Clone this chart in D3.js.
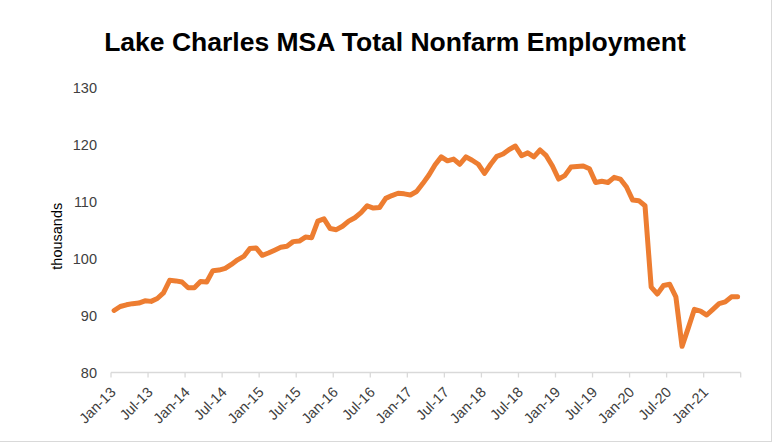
<!DOCTYPE html>
<html>
<head>
<meta charset="utf-8">
<script src="https://cdn.jsdelivr.net/npm/d3@7/dist/d3.min.js"></script>
<style>
  html, body { margin: 0; padding: 0; background: #fff; }
  svg { display: block; font-family: "Liberation Sans", Arial, sans-serif; }
</style>
</head>
<body>
<svg id="chart" width="776" height="444"></svg>
<script>
// Monthly total nonfarm employment, thousands, Jan 2013 – Jun 2021
const startYear = 2013;
const employment = [
  90.9, 91.6, 91.9, 92.1, 92.2, 92.6, 92.5, 93.0, 94.0, 96.2, 96.1, 95.9,   // 2013
  94.9, 94.9, 96.0, 95.9, 97.9, 98.0, 98.3, 99.0, 99.8, 100.4, 101.8, 101.9, // 2014
  100.6, 101.0, 101.5, 102.0, 102.2, 103.0, 103.1, 103.8, 103.7, 106.6, 107.0, 105.3, // 2015
  105.1, 105.7, 106.6, 107.2, 108.1, 109.3, 108.9, 109.0, 110.6, 111.1, 111.5, 111.4, // 2016
  111.2, 111.8, 113.2, 114.7, 116.5, 117.9, 117.2, 117.5, 116.6, 117.9, 117.3, 116.6, // 2017
  115.0, 116.6, 118.0, 118.4, 119.2, 119.8, 118.1, 118.6, 117.9, 119.1, 118.1, 116.3, // 2018
  114.0, 114.6, 116.1, 116.2, 116.3, 115.8, 113.4, 113.6, 113.4, 114.3, 114.0, 112.6, // 2019
  110.3, 110.2, 109.3, 95.0, 93.8, 95.3, 95.5, 93.3, 84.6, 87.8, 91.1, 90.8,   // 2020
  90.1, 91.1, 92.1, 92.4, 93.3, 93.3                                         // 2021
];
const monthNames = ["Jan","Feb","Mar","Apr","May","Jun","Jul","Aug","Sep","Oct","Nov","Dec"];
const months = employment.map((_, i) =>
  monthNames[i % 12] + "-" + String((startYear + Math.floor(i / 12)) % 100).padStart(2, "0"));
const yTicks = [80, 90, 100, 110, 120, 130];
const titleText = "Lake Charles MSA Total Nonfarm Employment";
const yAxisTitle = "thousands";

const svg = d3.select("#chart");
const plot = { left: 111, right: 740.7, top: 88, bottom: 372.5 };

// Chart area border
svg.append("rect")
  .attr("x", -1).attr("y", -1)
  .attr("width", 772.5).attr("height", 442.5)
  .attr("fill", "none").attr("stroke", "#d9d9d9").attr("stroke-width", 1);

// Category scale: each month occupies a band, points sit at the band centres
const x = d3.scaleBand().domain(months).range([plot.left, plot.right]).paddingInner(0).paddingOuter(0);
const y = d3.scaleLinear().domain([80, 130]).range([plot.bottom, plot.top]);

// Title
svg.append("text")
  .attr("x", 395).attr("y", 51)
  .attr("text-anchor", "middle")
  .attr("font-size", 26.5).attr("font-weight", "bold").attr("fill", "#000")
  .text(titleText);

// Y axis labels (no axis line)
const yAxis = d3.axisLeft(y).tickValues(yTicks).tickSize(0).tickPadding(14);
const gy = svg.append("g").attr("transform", `translate(${plot.left},0)`).call(yAxis);
gy.select(".domain").remove();
gy.selectAll("text").attr("font-size", 14.5).attr("fill", "#404040")
  .attr("font-family", "Liberation Sans, Arial, sans-serif");

// Y axis title
svg.append("text")
  .attr("transform", `translate(62,${(plot.top + plot.bottom) / 2 + 6}) rotate(-90)`)
  .attr("text-anchor", "middle")
  .attr("font-size", 14.5).attr("fill", "#000")
  .text(yAxisTitle);

// X axis: ticks every six months at band edges
const tickMonths = months.filter((_, i) => i % 6 === 0);
const gx = svg.append("g").attr("transform", `translate(0,${plot.bottom})`);
gx.append("line")
  .attr("x1", plot.left).attr("x2", plot.right)
  .attr("stroke", "#d9d9d9").attr("stroke-width", 1.3);
const tickPositions = tickMonths.map(m => x(m)).concat([plot.right]);
gx.selectAll("line.tick").data(tickPositions).enter().append("line")
  .attr("class", "tick")
  .attr("x1", d => d).attr("x2", d => d)
  .attr("y1", 0).attr("y2", 5)
  .attr("stroke", "#d9d9d9").attr("stroke-width", 1.3);
gx.selectAll("text").data(tickMonths).enter().append("text")
  .attr("transform", d => `translate(${x(d) + 2},${17}) rotate(-45)`)
  .attr("text-anchor", "end")
  .attr("dy", "0.35em")
  .attr("font-size", 14.5).attr("fill", "#404040")
  .text(d => d);

// Employment line
const line = d3.line()
  .x((d, i) => x(months[i]) + x.bandwidth() / 2)
  .y(d => y(d));
svg.append("path")
  .datum(employment)
  .attr("d", line)
  .attr("fill", "none")
  .attr("stroke", "#ED7D31")
  .attr("stroke-width", 5)
  .attr("stroke-linejoin", "round")
  .attr("stroke-linecap", "round");
</script>
</body>
</html>
